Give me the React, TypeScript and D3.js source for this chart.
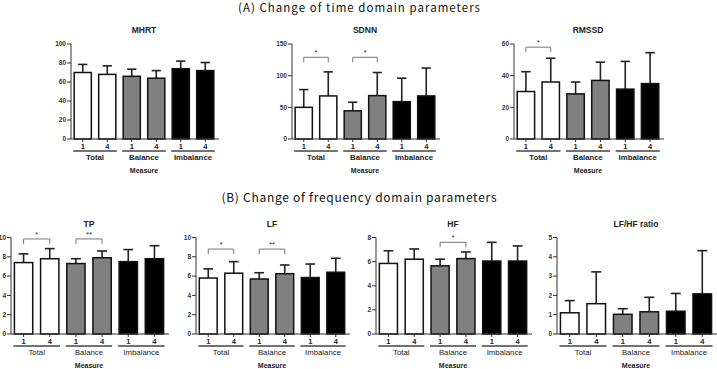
import React from "react";
import * as d3 from "d3";

const W = 717;
const H = 369;

const categories = ["Total-1", "Total-4", "Balance-1", "Balance-4", "Imbalance-1", "Imbalance-4"];
const barLabels = ["1", "4", "1", "4", "1", "4"];
const groups = ["Total", "Balance", "Imbalance"];
const fills = ["#ffffff", "#ffffff", "#808080", "#808080", "#000000", "#000000"];

const mhrtMean = [70, 68, 66, 64, 74, 72];
const mhrtSD = [8.5, 9, 7.5, 8, 8, 8.5];
const sdnnMean = [50, 68, 44.5, 68.5, 59, 68];
const sdnnSD = [28, 38, 13.5, 36.5, 37, 44];
const rmssdMean = [30, 36, 28.5, 37, 31.5, 35];
const rmssdSD = [12.5, 15, 7.5, 11.5, 17.5, 19.5];
const tpMean = [7.4, 7.8, 7.3, 7.9, 7.5, 7.8];
const tpSD = [0.9, 1.05, 0.5, 0.7, 1.25, 1.35];
const lfMean = [5.8, 6.3, 5.7, 6.25, 5.85, 6.4];
const lfSD = [0.95, 1.2, 0.65, 0.9, 1.4, 1.45];
const hfMean = [5.85, 6.2, 5.65, 6.25, 6.05, 6.05];
const hfSD = [1.05, 0.85, 0.55, 0.55, 1.55, 1.25];
const ratioMean = [1.1, 1.57, 1.02, 1.15, 1.18, 2.08];
const ratioSD = [0.63, 1.65, 0.29, 0.75, 0.92, 2.24];

const mhrtTicks = [0, 20, 40, 60, 80, 100];
const sdnnTicks = [0, 50, 100, 150];
const rmssdTicks = [0, 20, 40, 60];
const tpTicks = [0, 2, 4, 6, 8, 10];
const lfTicks = [0, 2, 4, 6, 8, 10];
const hfTicks = [0, 2, 4, 6, 8];
const ratioTicks = [0, 1, 2, 3, 4, 5];

type Sig = { a: number; b: number; level: number; label: string };
const sdnnSig: Sig[] = [
  { a: 0, b: 1, level: 129, label: "*" },
  { a: 2, b: 3, level: 129, label: "*" },
];
const rmssdSig: Sig[] = [{ a: 0, b: 1, level: 58, label: "*" }];
const tpSig: Sig[] = [
  { a: 0, b: 1, level: 9.85, label: "*" },
  { a: 2, b: 3, level: 9.85, label: "**" },
];
const lfSig: Sig[] = [
  { a: 0, b: 1, level: 8.8, label: "*" },
  { a: 2, b: 3, level: 8.8, label: "**" },
];
const hfSig: Sig[] = [{ a: 2, b: 3, level: 7.6, label: "*" }];

type Panel = {
  title: string;
  mean: number[];
  sd: number[];
  ticks: number[];
  sig: Sig[];
  x0: number;
  x1: number;
  yTop: number;
  yZero: number;
  boldGroups: boolean;
};

const panels: Panel[] = [
  { title: "MHRT", mean: mhrtMean, sd: mhrtSD, ticks: mhrtTicks, sig: [], x0: 71, x1: 217, yTop: 44, yZero: 139, boldGroups: true },
  { title: "SDNN", mean: sdnnMean, sd: sdnnSD, ticks: sdnnTicks, sig: sdnnSig, x0: 292, x1: 438, yTop: 44, yZero: 139, boldGroups: true },
  { title: "RMSSD", mean: rmssdMean, sd: rmssdSD, ticks: rmssdTicks, sig: rmssdSig, x0: 514, x1: 662, yTop: 44, yZero: 139, boldGroups: true },
  { title: "TP", mean: tpMean, sd: tpSD, ticks: tpTicks, sig: tpSig, x0: 11, x1: 167, yTop: 237.5, yZero: 334, boldGroups: false },
  { title: "LF", mean: lfMean, sd: lfSD, ticks: lfTicks, sig: lfSig, x0: 196, x1: 348, yTop: 237.5, yZero: 334, boldGroups: false },
  { title: "HF", mean: hfMean, sd: hfSD, ticks: hfTicks, sig: hfSig, x0: 376, x1: 530, yTop: 237.5, yZero: 334, boldGroups: false },
  { title: "LF/HF ratio", mean: ratioMean, sd: ratioSD, ticks: ratioTicks, sig: [], x0: 557, x1: 715, yTop: 237.5, yZero: 334, boldGroups: false },
];

const FONT = "'Liberation Sans', Arial, Helvetica, sans-serif";
const TFONT = "'Noto Sans CJK KR', 'Noto Sans', sans-serif";
const AX = "#333";

function PanelView({ p }: { p: Panel }) {
  const x = d3.scaleBand<string>().domain(categories).range([p.x0, p.x1]).paddingInner(0.3).paddingOuter(0.13);
  const yMax = p.ticks[p.ticks.length - 1];
  const y = d3.scaleLinear().domain([0, yMax]).range([p.yZero, p.yTop]);
  const bw = x.bandwidth();
  const cx = (i: number) => (x(categories[i]) as number) + bw / 2;
  return (
    <g>
      <text x={(p.x0 + p.x1) / 2} y={p.yTop - 11} textAnchor="middle" fontFamily={FONT} fontWeight="bold" fontSize={8.5} fill="#222">
        {p.title}
      </text>
      <line x1={p.x0} x2={p.x0} y1={y(yMax)} y2={y(0)} stroke={AX} strokeWidth={1} />
      {p.ticks.map((t) => (
        <g key={t}>
          <line x1={p.x0 - 4} x2={p.x0} y1={y(t)} y2={y(t)} stroke={AX} strokeWidth={1} />
          <text x={p.x0 - 5} y={y(t)} dy="0.35em" textAnchor="end" fontFamily={FONT} fontWeight="bold" fontSize={6.5} fill="#333">
            {t}
          </text>
        </g>
      ))}
      {p.mean.map((m, i) => {
        const bx = x(categories[i]) as number;
        const top = y(m + p.sd[i]);
        return (
          <g key={i}>
            <line x1={cx(i)} x2={cx(i)} y1={y(m)} y2={top} stroke="#222" strokeWidth={1.6} />
            <line x1={cx(i) - bw * 0.27} x2={cx(i) + bw * 0.27} y1={top} y2={top} stroke="#222" strokeWidth={1.6} />
            <rect x={bx} y={y(m)} width={bw} height={y(0) - y(m)} fill={fills[i]} stroke="#111" strokeWidth={1.5} />
          </g>
        );
      })}
      <line x1={p.x0} x2={p.x1 + 2} y1={y(0)} y2={y(0)} stroke={AX} strokeWidth={1.2} />
      {categories.map((c, i) => (
        <g key={c}>
          <line x1={cx(i)} x2={cx(i)} y1={y(0)} y2={y(0) + 3} stroke={AX} strokeWidth={1} />
          <text x={cx(i)} y={p.yZero + 7} dy="0.35em" textAnchor="middle" fontFamily={FONT} fontWeight="bold" fontSize={7.5} fill="#222">
            {barLabels[i]}
          </text>
        </g>
      ))}
      {groups.map((g, gi) => {
        const a = x(categories[gi * 2]) as number;
        const b = (x(categories[gi * 2 + 1]) as number) + bw;
        return (
          <g key={g}>
            <line x1={a - 1} x2={b + 1} y1={p.yZero + 12} y2={p.yZero + 12} stroke="#444" strokeWidth={1.3} />
            <text x={(a + b) / 2} y={p.yZero + 18} dy="0.35em" textAnchor="middle" fontFamily={FONT} fontWeight={p.boldGroups ? "bold" : "normal"} fontSize={7.8} fill="#222">
              {g}
            </text>
          </g>
        );
      })}
      <text x={(p.x0 + p.x1) / 2} y={p.yZero + 32} dy="0.35em" textAnchor="middle" fontFamily={FONT} fontWeight="bold" fontSize={7} fill="#222">
        Measure
      </text>
      {p.sig.map((s, k) => {
        const ya = y(s.level);
        return (
          <g key={k}>
            <path d={`M${cx(s.a)},${ya + 5}V${ya}H${cx(s.b)}V${ya + 5}`} fill="none" stroke="#777" strokeWidth={1} />
            <text x={(cx(s.a) + cx(s.b)) / 2} y={ya - 2} textAnchor="middle" fontFamily={FONT} fontSize={8} fill="#333">
              {s.label}
            </text>
          </g>
        );
      })}
    </g>
  );
}

export default function App() {
  return (
    <svg width={W} height={H} style={{ position: "absolute", left: 0, top: 0, background: "#fff" }}>
      <rect width={W} height={H} fill="#fff" />
      <text x={359} y={12} textAnchor="middle" fontFamily={TFONT} fontSize={11.5} fill="#111" textLength={242} lengthAdjust="spacing">
        (A) Change of time domain parameters
      </text>
      <text x={359} y={202} textAnchor="middle" fontFamily={TFONT} fontSize={12} fill="#111" textLength={275} lengthAdjust="spacing">
        (B) Change of frequency domain parameters
      </text>
      {panels.map((p) => (
        <PanelView key={p.title} p={p} />
      ))}
    </svg>
  );
}
